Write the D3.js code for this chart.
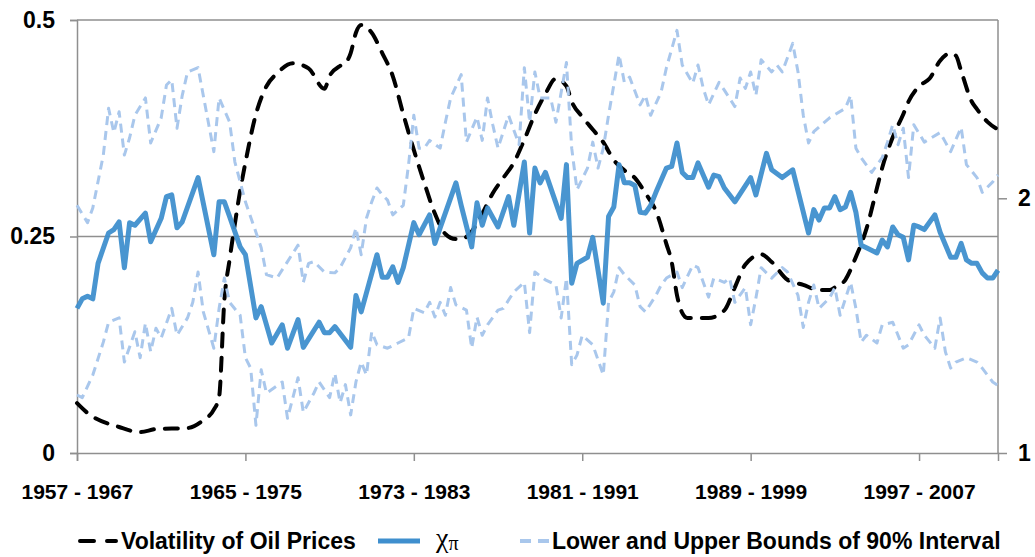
<!DOCTYPE html>
<html>
<head>
<meta charset="utf-8">
<script src="https://cdn.jsdelivr.net/npm/d3@7"></script>
<style>
  body { margin: 0; background: #fff; }
  svg { display: block; }
</style>
</head>
<body>
<div id="chart"></div>
<script>
// rolling 10-year windows, one point per quarter (window start 1957Q1 .. 2000Q4)
const nQuarters = 176;
const windowLabels = ["1957 - 1967", "1965 - 1975", "1973 - 1983", "1981 - 1991", "1989 - 1999", "1997 - 2007"];
const labelEvery = 32;
const leftTicks = [0, 0.25, 0.5];
const rightTicks = [1, 2];

// [quarter index, value]
const chiPoints = [[0,0.167],[1,0.178],[2,0.181],[3,0.178],[4,0.219],[6,0.254],[7,0.258],[8,0.267],[9,0.214],[10,0.266],[11,0.263],[13,0.277],[14,0.244],[16,0.271],[17,0.296],[18,0.298],[19,0.260],[20,0.267],[23,0.318],[26,0.229],[27,0.290],[28,0.290],[29,0.273],[31,0.238],[32,0.229],[34,0.156],[35,0.169],[37,0.127],[39,0.148],[40,0.121],[42,0.154],[43,0.122],[46,0.151],[47,0.139],[48,0.139],[49,0.146],[52,0.122],[53,0.182],[54,0.163],[57,0.229],[58,0.203],[59,0.203],[60,0.215],[61,0.197],[62,0.214],[64,0.266],[65,0.252],[67,0.275],[68,0.242],[69,0.260],[72,0.312],[73,0.286],[75,0.238],[76,0.289],[77,0.263],[78,0.283],[80,0.261],[82,0.296],[83,0.263],[85,0.336],[86,0.254],[87,0.329],[88,0.312],[89,0.324],[92,0.271],[93,0.333],[94,0.196],[95,0.219],[97,0.226],[98,0.249],[100,0.173],[101,0.273],[102,0.284],[103,0.333],[104,0.312],[105,0.312],[106,0.309],[107,0.278],[108,0.277],[109,0.286],[110,0.301],[112,0.329],[113,0.331],[114,0.358],[115,0.324],[116,0.318],[117,0.318],[118,0.335],[120,0.307],[121,0.321],[122,0.319],[123,0.306],[125,0.290],[128,0.318],[129,0.298],[131,0.346],[132,0.327],[134,0.318],[136,0.327],[139,0.254],[140,0.281],[141,0.269],[142,0.283],[143,0.283],[144,0.296],[145,0.281],[146,0.284],[147,0.301],[148,0.278],[149,0.240],[150,0.237],[152,0.231],[153,0.246],[154,0.238],[155,0.261],[156,0.252],[157,0.249],[158,0.223],[159,0.263],[160,0.261],[161,0.258],[163,0.275],[164,0.255],[166,0.226],[167,0.226],[168,0.242],[169,0.223],[170,0.219],[171,0.219],[172,0.208],[173,0.202],[174,0.202],[175,0.211]];

const upperPoints = [[0,0.286],[2,0.266],[3,0.283],[5,0.344],[6,0.398],[7,0.370],[8,0.394],[9,0.344],[10,0.364],[11,0.390],[13,0.410],[14,0.358],[16,0.387],[17,0.425],[18,0.431],[19,0.375],[20,0.413],[21,0.440],[23,0.445],[26,0.348],[27,0.410],[29,0.382],[30,0.336],[32,0.290],[34,0.255],[35,0.237],[36,0.206],[38,0.202],[40,0.221],[42,0.240],[43,0.197],[44,0.219],[45,0.221],[47,0.209],[49,0.208],[50,0.214],[52,0.237],[53,0.260],[54,0.229],[55,0.271],[56,0.290],[57,0.306],[58,0.298],[59,0.292],[60,0.275],[62,0.286],[63,0.333],[64,0.390],[65,0.352],[66,0.352],[67,0.361],[69,0.352],[70,0.382],[71,0.410],[73,0.437],[74,0.359],[76,0.388],[77,0.361],[78,0.410],[79,0.379],[80,0.352],[82,0.390],[84,0.356],[85,0.445],[86,0.382],[87,0.440],[88,0.410],[90,0.410],[91,0.382],[93,0.451],[94,0.352],[95,0.304],[97,0.329],[98,0.359],[99,0.329],[100,0.352],[101,0.390],[103,0.460],[104,0.428],[105,0.434],[107,0.402],[108,0.413],[109,0.390],[111,0.417],[112,0.445],[114,0.488],[115,0.448],[117,0.427],[118,0.448],[119,0.421],[120,0.402],[122,0.428],[123,0.419],[125,0.400],[126,0.433],[127,0.421],[128,0.440],[129,0.413],[130,0.454],[132,0.440],[133,0.448],[134,0.440],[136,0.473],[137,0.440],[138,0.390],[139,0.358],[140,0.371],[143,0.387],[146,0.398],[147,0.413],[148,0.352],[149,0.341],[151,0.324],[153,0.341],[154,0.359],[155,0.379],[156,0.356],[157,0.375],[158,0.318],[159,0.379],[161,0.359],[164,0.370],[165,0.359],[166,0.348],[168,0.376],[169,0.333],[171,0.318],[172,0.301],[174,0.313],[175,0.321]];

const lowerPoints = [[0,0.067],[1,0.064],[3,0.090],[5,0.128],[6,0.151],[8,0.156],[9,0.105],[11,0.140],[12,0.110],[13,0.150],[14,0.117],[15,0.144],[16,0.133],[18,0.167],[19,0.136],[21,0.156],[22,0.174],[23,0.209],[24,0.163],[26,0.121],[27,0.167],[28,0.202],[29,0.174],[31,0.159],[32,0.110],[33,0.098],[34,0.032],[35,0.096],[36,0.069],[39,0.082],[40,0.040],[42,0.087],[43,0.047],[45,0.069],[46,0.082],[48,0.064],[49,0.092],[50,0.058],[51,0.079],[52,0.044],[53,0.082],[54,0.105],[55,0.090],[56,0.140],[57,0.125],[59,0.121],[61,0.127],[63,0.133],[64,0.167],[66,0.162],[67,0.174],[68,0.157],[69,0.174],[70,0.159],[71,0.191],[72,0.171],[74,0.165],[75,0.121],[76,0.157],[77,0.136],[78,0.148],[80,0.165],[81,0.167],[83,0.186],[85,0.197],[86,0.139],[87,0.209],[89,0.200],[91,0.194],[92,0.156],[93,0.202],[94,0.102],[95,0.113],[96,0.136],[98,0.125],[100,0.090],[101,0.174],[102,0.186],[103,0.214],[104,0.206],[106,0.194],[107,0.169],[108,0.163],[110,0.182],[111,0.194],[112,0.202],[114,0.209],[115,0.191],[117,0.217],[118,0.214],[120,0.180],[121,0.202],[123,0.197],[124,0.202],[125,0.174],[127,0.191],[128,0.148],[129,0.179],[130,0.214],[132,0.202],[134,0.214],[135,0.209],[137,0.182],[138,0.145],[139,0.174],[140,0.194],[141,0.167],[143,0.179],[144,0.191],[145,0.159],[147,0.197],[148,0.167],[149,0.128],[150,0.136],[152,0.127],[153,0.148],[155,0.151],[157,0.121],[158,0.125],[160,0.148],[161,0.136],[163,0.121],[164,0.156],[165,0.117],[166,0.098],[167,0.105],[169,0.110],[171,0.105],[172,0.098],[173,0.090],[174,0.082],[175,0.078]];

// volatility of oil prices, right axis
const oilPoints = [[0,1.196],[2,1.157],[8,1.102],[12,1.082],[15,1.094],[21,1.098],[24,1.129],[26,1.17],[27,1.22],[28,1.60],[29,1.76],[30,1.90],[31,2.03],[32,2.14],[34,2.33],[36,2.44],[38,2.49],[41,2.53],[44,2.51],[47,2.43],[48,2.48],[50,2.52],[51,2.53],[52,2.57],[53,2.65],[54,2.68],[56,2.65],[58,2.57],[60,2.48],[62,2.33],[64,2.19],[66,2.06],[68,1.94],[70,1.86],[72,1.84],[73,1.84],[75,1.87],[77,1.94],[79,2.02],[81,2.08],[83,2.14],[85,2.23],[87,2.33],[89,2.41],[91,2.47],[93,2.44],[94,2.38],[96,2.32],[98,2.27],[100,2.22],[102,2.15],[104,2.11],[106,2.08],[108,2.02],[110,1.95],[112,1.82],[113,1.75],[114,1.62],[115,1.55],[116,1.53],[120,1.53],[123,1.56],[125,1.65],[127,1.74],[130,1.78],[132,1.75],[135,1.68],[138,1.66],[141,1.64],[143,1.64],[144,1.65],[146,1.68],[147,1.72],[148,1.77],[149,1.82],[150,1.88],[152,2.04],[153,2.12],[155,2.24],[157,2.33],[158,2.38],[160,2.44],[162,2.47],[164,2.54],[166,2.57],[167,2.56],[168,2.50],[170,2.38],[171,2.35],[173,2.30],[175,2.27]];

const width = 1035;
const height = 557;
const margin = { top: 20, right: 37, bottom: 104, left: 77 };
const font = "'Liberation Sans', Arial, sans-serif";
const gridColor = "#8f8f8f";

const svg = d3.select("#chart")
  .append("svg")
  .attr("width", width)
  .attr("height", height);

const x = d3.scaleLinear()
  .domain([0, nQuarters - 1])
  .range([margin.left, width - margin.right]);

const yLeft = d3.scaleLinear()
  .domain([0, 0.5])
  .range([height - margin.bottom, margin.top]);

const yRight = d3.scaleLinear()
  .domain([1, 2.7])
  .range([height - margin.bottom, margin.top]);

// frame + grid
const frame = svg.append("g")
  .attr("stroke", gridColor)
  .attr("stroke-width", 1.5)
  .attr("fill", "none");

frame.append("line")
  .attr("x1", x(0)).attr("x2", x(nQuarters - 1))
  .attr("y1", yLeft(0.25)).attr("y2", yLeft(0.25));
frame.append("line")
  .attr("x1", x(0)).attr("x2", x(nQuarters - 1))
  .attr("y1", yLeft(0.5)).attr("y2", yLeft(0.5));
frame.append("line")
  .attr("x1", x(nQuarters - 1)).attr("x2", x(nQuarters - 1))
  .attr("y1", yLeft(0)).attr("y2", yLeft(0.5));

// left axis
const leftAxis = svg.append("g")
  .attr("transform", `translate(${margin.left},0)`)
  .call(d3.axisLeft(yLeft).tickValues(leftTicks).tickSize(7).tickPadding(15)
    .tickFormat((d) => d3.format("")(d)));

// right axis
const rightAxis = svg.append("g")
  .attr("transform", `translate(${x(nQuarters - 1)},0)`)
  .call(d3.axisRight(yRight).tickValues(rightTicks).tickSize(9).tickPadding(11)
    .tickFormat(d3.format("d")));

// bottom axis
const bottomAxis = svg.append("g")
  .attr("transform", `translate(0,${yLeft(0)})`)
  .call(d3.axisBottom(x)
    .tickValues(windowLabels.map((d, i) => i * labelEvery))
    .tickSize(8)
    .tickPadding(23)
    .tickFormat((d) => windowLabels[d / labelEvery]));

[leftAxis, rightAxis, bottomAxis].forEach((g) => {
  g.select(".domain").attr("stroke", gridColor).attr("stroke-width", 1.5);
  g.selectAll(".tick line").attr("stroke", gridColor).attr("stroke-width", 1.5);
  g.selectAll(".tick text")
    .attr("fill", "#000")
    .style("font-family", font)
    .style("font-weight", "bold")
    .style("font-size", "21px");
});
rightAxis.select(".domain").remove();
leftAxis.selectAll(".tick text").style("font-size", "23px");
rightAxis.selectAll(".tick text").style("font-size", "23px");

const lineLeft = d3.line()
  .x((d) => x(d[0]))
  .y((d) => yLeft(d[1]));

const lineOil = d3.line()
  .x((d) => x(d[0]))
  .y((d) => yRight(d[1]))
  .curve(d3.curveMonotoneX);

svg.append("path")
  .datum(oilPoints)
  .attr("d", lineOil)
  .attr("fill", "none")
  .attr("stroke", "#000")
  .attr("stroke-width", 4)
  .attr("stroke-linecap", "round")
  .attr("stroke-dasharray", "13,11");

[upperPoints, lowerPoints].forEach((pts) => {
  svg.append("path")
    .datum(pts)
    .attr("d", lineLeft)
    .attr("fill", "none")
    .attr("stroke", "#a9c7ec")
    .attr("stroke-width", 3)
    .attr("stroke-linejoin", "round")
    .attr("stroke-dasharray", "9,6");
});

svg.append("path")
  .datum(chiPoints)
  .attr("d", lineLeft)
  .attr("fill", "none")
  .attr("stroke", "#3f8fce")
  .attr("stroke-opacity", 0.95)
  .attr("stroke-width", 5)
  .attr("stroke-linejoin", "round");

// legend
const legend = svg.append("g");
const legendY = 541;
const legendFont = "23px";

legend.append("line")
  .attr("x1", 80).attr("x2", 116)
  .attr("y1", legendY).attr("y2", legendY)
  .attr("stroke", "#000")
  .attr("stroke-width", 4)
  .attr("stroke-linecap", "round")
  .attr("stroke-dasharray", "14,13");
legend.append("text")
  .attr("x", 121).attr("y", legendY + 8)
  .style("font-family", font).style("font-weight", "bold").style("font-size", legendFont)
  .text("Volatility of Oil Prices");

legend.append("line")
  .attr("x1", 378).attr("x2", 420)
  .attr("y1", legendY).attr("y2", legendY)
  .attr("stroke", "#3f8fce")
  .attr("stroke-width", 5);
const chiText = legend.append("text")
  .attr("x", 436).attr("y", legendY + 6)
  .style("font-family", "'Liberation Serif', 'Times New Roman', serif")
  .style("font-size", "28px");
chiText.append("tspan").text("χ");
chiText.append("tspan").attr("dy", 3).style("font-size", "20px").text("π");

legend.append("line")
  .attr("x1", 520).attr("x2", 549)
  .attr("y1", legendY).attr("y2", legendY)
  .attr("stroke", "#a9c7ec")
  .attr("stroke-width", 4)
  .attr("stroke-dasharray", "11,7");
legend.append("text")
  .attr("x", 552).attr("y", legendY + 8)
  .style("font-family", font).style("font-weight", "bold").style("font-size", legendFont)
  .text("Lower and Upper Bounds of 90% Interval");
</script>
</body>
</html>
